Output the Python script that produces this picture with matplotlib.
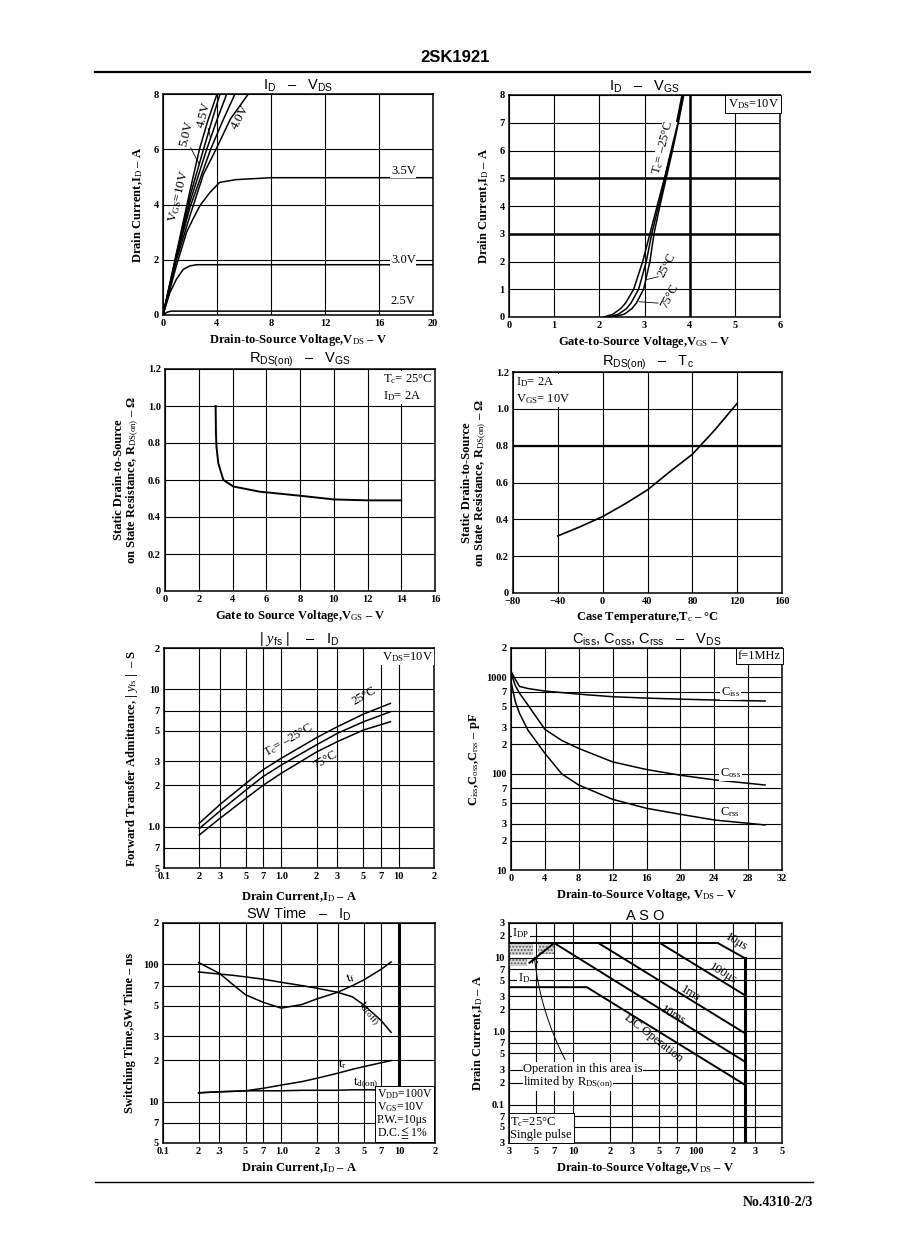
import numpy as np
import matplotlib.pyplot as plt
from matplotlib.lines import Line2D

plt.rcParams['font.family'] = ['Liberation Serif', 'DejaVu Serif', 'DejaVu Sans']
plt.rcParams['mathtext.fontset'] = 'custom'
plt.rcParams['mathtext.rm'] = 'Liberation Serif'
plt.rcParams['mathtext.it'] = 'Liberation Serif:italic'
plt.rcParams['mathtext.bf'] = 'Liberation Serif:bold'
plt.rcParams['mathtext.sf'] = 'Liberation Sans'
plt.rcParams['mathtext.fallback'] = 'stix'

W, H = 898, 1260

# ---------------- data ----------------
# ID - VDS (output characteristics)
vds_10v = [0, 1, 2, 2.7, 3.3, 4.0]
id_10v = [0, 2.25, 4.5, 6, 7, 8]
vds_6v = [0, 1, 2, 3.0, 3.6, 4.22]
id_6v = [0, 2.2, 4.3, 6, 7, 8]
vds_5v = [0, 1, 2, 3.24, 3.95, 4.72]
id_5v = [0, 2.15, 4.1, 6, 7, 8]
vds_45v = [0, 1, 2, 3.53, 4.4, 5.33]
id_45v = [0, 2.1, 3.9, 6, 7, 8]
vds_4v = [0, 1, 2, 3.0, 3.93, 5.0, 6.32]
id_4v = [0, 2.0, 3.6, 5.1, 6, 7.1, 8]
vds_35v = [0, 0.5, 1, 1.75, 2.25, 2.75, 3.5, 4.2, 5.4, 8, 20]
id_35v = [0, 0.9, 1.8, 3.0, 3.5, 3.97, 4.45, 4.8, 4.9, 4.97, 4.97]
vds_3v = [0, 0.5, 1, 1.5, 2, 2.5, 20]
id_3v = [0, 0.8, 1.3, 1.65, 1.78, 1.82, 1.82]
vds_25v = [0, 0.3, 0.6, 20]
id_25v = [0, 0.1, 0.14, 0.14]

# ID - VGS (transfer)
id_levels = [0, 0.1, 0.3, 0.5, 1, 2, 3, 4, 5, 6, 7, 8]
vgs_m25 = [2.10, 2.30, 2.47, 2.58, 2.76, 2.96, 3.12, 3.28, 3.44, 3.58, 3.71, 3.83]
vgs_25 = [2.20, 2.42, 2.60, 2.70, 2.87, 3.04, 3.16, 3.31, 3.46, 3.60, 3.73, 3.85]
vgs_75 = [2.30, 2.55, 2.72, 2.82, 2.98, 3.12, 3.21, 3.34, 3.48, 3.62, 3.75, 3.87]

# RDS(on) - VGS
rvgs_v = [3.0, 3.02, 3.05, 3.16, 3.46, 4.05, 5.6, 8.0, 10, 12, 14]
rvgs_r = [1.0, 0.85, 0.78, 0.69, 0.60, 0.565, 0.537, 0.515, 0.495, 0.49, 0.49]

# RDS(on) - Tc
rtc_t = [-40, -20, 0, 20, 40, 60, 80, 100, 120]
rtc_r = [0.31, 0.36, 0.415, 0.484, 0.56, 0.659, 0.753, 0.885, 1.03]

# |yfs| - ID
yfs_id = [0.2, 0.3, 0.5, 0.7, 1.0, 2, 3, 5, 8.5]
yfs_m25 = [1.06, 1.45, 2.07, 2.6, 3.15, 4.45, 5.34, 6.6, 7.9]
yfs_25 = [0.97, 1.3, 1.85, 2.32, 2.81, 3.95, 4.78, 5.8, 6.87]
yfs_75 = [0.87, 1.15, 1.61, 2.0, 2.45, 3.5, 4.16, 5.05, 5.81]

# Ciss, Coss, Crss - VDS
cap_v = [0, 0.5, 1, 2, 4, 6, 8, 12, 16, 20, 24, 30]
ciss = [1150, 950, 800, 760, 716, 690, 665, 625, 605, 590, 578, 564]
coss = [1100, 820, 680, 513, 287, 220, 182, 132, 110, 96, 86, 76]
crss = [900, 560, 421, 282, 162, 99, 76, 54, 43.6, 37.8, 33, 29.3]

# SW time - ID
sw_id = [0.2, 0.3, 0.4, 0.5, 0.7, 1.0, 1.5, 2, 3, 4, 5, 7, 8.5]
t_f = [103, 86, 70, 60, 53, 48, 51, 56, 62.6, 70, 77, 92, 104]
td_off = [88, 85, 83, 81, 78, 74, 70, 67, 62.6, 58, 50.6, 39, 32]
t_r = [11.6, 11.8, 11.9, 12.0, 12.5, 13.2, 14.0, 14.8, 16.1, 17.2, 18, 19.2, 19.9]
td_on = [11.6, 11.8, 11.9, 12.0, 12.0, 12.0, 12.1, 12.1, 12.1, 12.2, 12.2, 12.2, 12.2]

# ASO
idp_v, idp_i = [3, 150], [16, 16]
us10_v, us10_i = [150, 250], [16, 9.9]
us100_v, us100_i = [50.8, 250], [16, 3.1]
ms1_v, ms1_i = [16, 250], [16, 0.94]
ms10_v, ms10_i = [7, 250], [16, 0.385]
dc_v, dc_i = [3, 12.9, 250], [4.0, 4.0, 0.186]
vdss_v, vdss_i = [250, 250], [9.9, 0.03]
rds_v, rds_i = [4.4, 7.0], [8.6, 16]


def box(l, t, r, b):
    return [l / W, 1 - b / H, (r - l) / W, (b - t) / H]


def style(ax, xt, xl, yt, yl):
    ax.set_xticks(xt, xl)
    ax.set_yticks(yt, yl)
    ax.minorticks_off()
    ax.tick_params(length=0, labelsize=7.5, pad=3)
    for lab in ax.get_xticklabels() + ax.get_yticklabels():
        lab.set_fontweight('bold')
    ax.grid(True, color='k', lw=0.8)
    ax.set_axisbelow(True)
    for s in ax.spines.values():
        s.set_linewidth(1.1)


def title(ax, s):
    ax.set_title(s, fontfamily='Liberation Sans', fontsize=10.5, pad=1)


LBL = dict(fontsize=9, fontweight='bold')
CRV = dict(color='k', lw=1.1)
FS = 9

fig = plt.figure(figsize=(W / 100, H / 100), dpi=100)

fig.text(455 / W, 1 - 57 / H, '2SK1921', fontfamily='Liberation Sans', fontsize=12,
         fontweight='bold', ha='center', va='center')
fig.add_artist(Line2D([95 / W, 810 / W], [1 - 72 / H] * 2, color='k', lw=1.6))
fig.add_artist(Line2D([95 / W, 813 / W], [1 - 1182 / H] * 2, color='k', lw=1.0))
fig.text(813 / W, 1 - 1203 / H, 'No.4310-2/3', fontsize=10, fontweight='bold',
         ha='right', va='center')

# ---------- ID - VDS ----------
ax = fig.add_axes(box(163, 94, 433, 315))
for x, y in [(vds_10v, id_10v), (vds_6v, id_6v), (vds_5v, id_5v), (vds_45v, id_45v),
             (vds_4v, id_4v), (vds_35v, id_35v), (vds_3v, id_3v), (vds_25v, id_25v)]:
    ax.plot(x, y, **CRV)
ax.set_xlim(0, 20)
ax.set_ylim(0, 8)
style(ax, range(0, 21, 4), [str(v) for v in range(0, 21, 4)],
      range(0, 9, 2), [str(v) for v in range(0, 9, 2)])
title(ax, r'I$_\mathsf{D}$   –   V$_\mathsf{DS}$')
ax.set_xlabel(r'Drain-to-Source Voltage,V$_{\rm DS}$ – V', labelpad=3, **LBL)
ax.set_ylabel(r'Drain Current,I$_{\rm D}$ – A', labelpad=6, **LBL)
for t, x, y in [('3.5V', 17.8, 5.2), ('3.0V', 17.8, 2.0), ('2.5V', 17.8, 0.5)]:
    ax.text(x, y, t, fontsize=FS, ha='center', va='center',
            bbox=dict(facecolor='white', edgecolor='none', pad=0.5))
ax.text(1.2, 4.3, r'V$_{\rm GS}$=10V', rotation=76, fontsize=9.5, ha='center', va='center')
ax.text(1.75, 6.55, '5.0V', rotation=76, fontsize=9.5, ha='center', va='center')
ax.text(3.05, 7.25, '4.5V', rotation=76, fontsize=9.5, ha='center', va='center')
ax.text(5.75, 7.15, '4.0V', rotation=62, fontsize=9.5, ha='center', va='center')
ax.plot([2.05, 2.7], [6.05, 5.45], color='k', lw=0.6)
ax.plot([3.35, 3.5], [6.75, 6.45], color='k', lw=0.6)

# ---------- ID - VGS ----------
ax = fig.add_axes(box(509, 95, 780, 317))
for v in (vgs_m25, vgs_25, vgs_75):
    ax.plot(v, id_levels, **CRV)
ax.set_xlim(0, 6)
ax.set_ylim(0, 8)
style(ax, range(0, 7), [str(v) for v in range(0, 7)],
      range(0, 9), [str(v) for v in range(0, 9)])
ax.axhline(5, color='k', lw=1.8)
ax.axhline(3, color='k', lw=1.8)
ax.axvline(4, color='k', lw=1.8)
title(ax, r'I$_\mathsf{D}$   –   V$_\mathsf{GS}$')
ax.set_xlabel(r'Gate-to-Source Voltage,V$_{\rm GS}$ – V', labelpad=3, **LBL)
ax.set_ylabel(r'Drain Current,I$_{\rm D}$ – A', labelpad=6, **LBL)
ax.text(0.995, 0.99, r'V$_{\rm DS}$=10V', transform=ax.transAxes, fontsize=FS,
        ha='right', va='top', bbox=dict(facecolor='white', edgecolor='k', lw=0.7, pad=1.5))
ax.text(3.42, 6.1, r'T$_{\rm c}$= –25°C', rotation=76, fontsize=FS, ha='center', va='center',
        bbox=dict(facecolor='white', edgecolor='none', pad=0.3))
ax.text(3.5, 1.85, '25°C', rotation=62, fontsize=FS, ha='center', va='center')
ax.text(3.55, 0.75, '75°C', rotation=62, fontsize=FS, ha='center', va='center')
ax.plot([3.05, 3.3], [1.35, 1.45], color='k', lw=0.6)
ax.plot([2.88, 3.3], [0.55, 0.5], color='k', lw=0.6)

# ---------- RDS(on) - VGS ----------
ax = fig.add_axes(box(165, 369, 435, 591))
ax.plot(rvgs_v, rvgs_r, color='k', lw=1.4)
ax.set_xlim(0, 16)
ax.set_ylim(0, 1.2)
style(ax, range(0, 17, 2), [str(v) for v in range(0, 17, 2)],
      np.arange(0, 1.21, 0.2), ['0', '0.2', '0.4', '0.6', '0.8', '1.0', '1.2'])
title(ax, r'R$_\mathsf{DS(on)}$   –   V$_\mathsf{GS}$')
ax.set_xlabel(r'Gate to Source Voltage,V$_{\rm GS}$ – V', labelpad=3, **LBL)
ax.set_ylabel('Static Drain-to-Source\n' + r'on State Resistance, R$_{\rm DS(on)}$ – Ω',
              labelpad=5, linespacing=1.0, **LBL)
ax.text(0.99, 0.985, 'T$_{\\rm c}$= 25°C\nI$_{\\rm D}$= 2A', transform=ax.transAxes,
        fontsize=FS, ha='right', va='top', linespacing=1.3, multialignment='left',
        bbox=dict(facecolor='white', edgecolor='none', pad=1))

# ---------- RDS(on) - Tc ----------
ax = fig.add_axes(box(513, 372, 782, 593))
ax.plot(rtc_t, rtc_r, color='k', lw=1.2)
ax.set_xlim(-80, 160)
ax.set_ylim(0, 1.2)
style(ax, range(-80, 161, 40), ['−80', '−40', '0', '40', '80', '120', '160'],
      np.arange(0, 1.21, 0.2), ['0', '0.2', '0.4', '0.6', '0.8', '1.0', '1.2'])
ax.axhline(0.8, color='k', lw=1.6)
title(ax, r'R$_\mathsf{DS(on)}$   –   T$_\mathsf{c}$')
ax.set_xlabel(r'Case Temperature,T$_{\rm c}$ – °C', labelpad=3, **LBL)
ax.set_ylabel('Static Drain-to-Source\n' + r'on State Resistance, R$_{\rm DS(on)}$ – Ω',
              labelpad=5, linespacing=1.0, **LBL)
ax.text(0.01, 0.985, 'I$_{\\rm D}$= 2A\nV$_{\\rm GS}$= 10V', transform=ax.transAxes,
        fontsize=FS, ha='left', va='top', linespacing=1.3,
        bbox=dict(facecolor='white', edgecolor='none', pad=1))

# ---------- |yfs| - ID ----------
logx = [0.1, 0.2, 0.3, 0.5, 0.7, 1, 2, 3, 5, 7, 10, 20]
ax = fig.add_axes(box(164, 648, 434, 868))
for y in (yfs_m25, yfs_25, yfs_75):
    ax.plot(yfs_id, y, **CRV)
ax.set_xscale('log')
ax.set_yscale('log')
style(ax, logx, ['0.1', '2', '3', '5', '7', '1.0', '2', '3', '5', '7', '10', '2'],
      [0.5, 0.7, 1, 2, 3, 5, 7, 10, 20], ['5', '7', '1.0', '2', '3', '5', '7', '10', '2'])
ax.set_xlim(0.1, 20)
ax.set_ylim(0.5, 20)
title(ax, r'| $y_\mathsf{fs}$ |    –   I$_\mathsf{D}$')
ax.set_xlabel(r'Drain Current,I$_{\rm D}$ – A', labelpad=6, **LBL)
ax.set_ylabel(r'Forward Transfer Admittance, | $y_{\rm fs}$ |  – S', labelpad=5, **LBL)
ax.text(0.995, 0.99, r'V$_{\rm DS}$=10V', transform=ax.transAxes, fontsize=FS,
        ha='right', va='top', bbox=dict(facecolor='white', edgecolor='none', pad=1))
ax.text(1.15, 4.25, r'T$_{\rm c}$= –25°C', rotation=30, fontsize=FS, ha='center', va='center')
ax.text(5.1, 9.0, '25°C', rotation=30, fontsize=FS, ha='center', va='center')
ax.text(2.35, 3.05, '75°C', rotation=30, fontsize=FS, ha='center', va='center')

# ---------- Ciss, Coss, Crss - VDS ----------
ax = fig.add_axes(box(511, 648, 782, 870))
for c in (ciss, coss, crss):
    ax.plot(cap_v, c, **CRV)
ax.set_yscale('log')
style(ax, range(0, 33, 4), [str(v) for v in range(0, 33, 4)],
      [10, 20, 30, 50, 70, 100, 200, 300, 500, 700, 1000, 2000],
      ['10', '2', '3', '5', '7', '100', '2', '3', '5', '7', '1000', '2'])
ax.set_xlim(0, 32)
ax.set_ylim(10, 2000)
title(ax, r'C$_\mathsf{iss}$, C$_\mathsf{oss}$, C$_\mathsf{rss}$   –   V$_\mathsf{DS}$')
ax.set_xlabel(r'Drain-to-Source Voltage, V$_{\rm DS}$ – V', labelpad=3, **LBL)
ax.set_ylabel(r'C$_{\rm iss}$,C$_{\rm oss}$,C$_{\rm rss}$ – pF', labelpad=3, **LBL)
ax.text(0.995, 0.99, 'f=1MHz', transform=ax.transAxes, fontsize=FS,
        ha='right', va='top', bbox=dict(facecolor='white', edgecolor='k', lw=0.7, pad=1.5))
for t, y in [(r'C$_{\rm iss}$', 690), (r'C$_{\rm oss}$', 100), (r'C$_{\rm rss}$', 40)]:
    ax.text(25.9, y, t, fontsize=FS, ha='center', va='center',
            bbox=dict(facecolor='white', edgecolor='none', pad=0.5))

# ---------- SW time - ID ----------
ax = fig.add_axes(box(163, 923, 435, 1143))
for y in (t_f, td_off, t_r, td_on):
    ax.plot(sw_id, y, **CRV)
ax.set_xscale('log')
ax.set_yscale('log')
style(ax, logx, ['0.1', '2', '.3', '5', '7', '1.0', '2', '3', '5', '7', '10', '2'],
      [5, 7, 10, 20, 30, 50, 70, 100, 200], ['5', '7', '10', '2', '3', '5', '7', '100', '2'])
ax.set_xlim(0.1, 20)
ax.set_ylim(5, 200)
ax.axvline(10, color='k', lw=2.2)
title(ax, r'SW Time   –   I$_\mathsf{D}$')
ax.set_xlabel(r'Drain Current,I$_{\rm D}$ – A', labelpad=3, **LBL)
ax.set_ylabel('Switching Time,SW Time – ns', labelpad=5, **LBL)
ax.text(3.85, 80, r't$_{\rm f}$', rotation=20, fontsize=9.5, ha='center', va='center')
ax.text(5.5, 44, r't$_{\rm d(off)}$', rotation=-50, fontsize=9.5, ha='center', va='center')
ax.text(3.27, 18.8, r't$_{\rm r}$', fontsize=9.5, ha='center', va='center')
ax.text(5.2, 13.6, r't$_{\rm d(on)}$', fontsize=9.5, ha='center', va='center')
ax.text(0.99, 0.01, 'V$_{\\rm DD}$=100V\nV$_{\\rm GS}$=10V\nP.W.=10μs\nD.C.$\\leqq$1%',
        transform=ax.transAxes, fontsize=8.5, ha='right', va='bottom', linespacing=0.95,
        multialignment='left',
        bbox=dict(facecolor='white', edgecolor='k', lw=0.7, pad=1.2))

# ---------- ASO ----------
ax = fig.add_axes(box(509, 923, 782, 1143))
ax.set_xscale('log')
ax.set_yscale('log')
ax.fill_between([3, 4.7], 11, 16, facecolor='0.85', edgecolor='0.35', hatch='.....', lw=0)
ax.fill_between([5.2, 7.0], 11.5, 16, facecolor='0.85', edgecolor='0.35', hatch='.....', lw=0)
ax.fill_between([3, 4.2], 7.7, 9.8, facecolor='0.85', edgecolor='0.35', hatch='.....', lw=0)
for x, y in [(idp_v, idp_i), (us10_v, us10_i), (us100_v, us100_i), (ms1_v, ms1_i),
             (ms10_v, ms10_i), (dc_v, dc_i), (rds_v, rds_i)]:
    ax.plot(x, y, color='k', lw=1.4)
ax.plot(vdss_v, vdss_i, color='k', lw=2.2)
style(ax, [3, 5, 7, 10, 20, 30, 50, 70, 100, 200, 300, 500],
      ['3', '5', '7', '10', '2', '3', '5', '7', '100', '2', '3', '5'],
      [0.03, 0.05, 0.07, 0.1, 0.2, 0.3, 0.5, 0.7, 1, 2, 3, 5, 7, 10, 20, 30],
      ['3', '5', '7', '0.1', '2', '3', '5', '7', '1.0', '2', '3', '5', '7', '10', '2', '3'])
ax.set_xlim(3, 500)
ax.set_ylim(0.03, 30)
title(ax, 'A S O')
ax.set_xlabel(r'Drain-to-Source Voltage,V$_{\rm DS}$ – V', labelpad=3, **LBL)
ax.set_ylabel(r'Drain Current,I$_{\rm D}$ – A', labelpad=5, **LBL)
ax.text(3.75, 22, r'I$_{\rm DP}$', fontsize=FS, ha='center', va='center',
        bbox=dict(facecolor='white', edgecolor='none', pad=0.3))
ax.text(3.95, 5.3, r'I$_{\rm D}$', fontsize=FS, ha='center', va='center',
        bbox=dict(facecolor='white', edgecolor='none', pad=0.3))
ax.text(214, 16.5, '10μs', rotation=-31, fontsize=FS, ha='center', va='center')
ax.text(166, 6.2, '100μs', rotation=-31, fontsize=FS, ha='center', va='center')
ax.text(89, 3.3, '1ms', rotation=-31, fontsize=FS, ha='center', va='center')
ax.text(65, 1.67, '10ms', rotation=-31, fontsize=FS, ha='center', va='center')
ax.text(45, 0.8, 'DC Operation', rotation=-38, fontsize=FS, ha='center', va='center')
ax.text(3.9, 0.31, 'Operation in this area is', fontsize=FS, ha='left', va='center',
        bbox=dict(facecolor='white', edgecolor='none', pad=0.3))
ax.text(3.9, 0.2, r'limited by R$_{\rm DS(on)}$', fontsize=FS, ha='left', va='center',
        bbox=dict(facecolor='white', edgecolor='none', pad=0.3))
ax.annotate('', xy=(4.8, 11.5), xytext=(8.8, 0.38),
            arrowprops=dict(arrowstyle='->', lw=0.7, color='k', connectionstyle='arc3,rad=-0.1'))
ax.text(3.08, 0.032, 'T$_{\\rm c}$=25°C\nSingle pulse', fontsize=FS, ha='left', va='bottom',
        linespacing=1.0, bbox=dict(facecolor='white', edgecolor='k', lw=0.7, pad=1.2))

fig.savefig('out.png', dpi=100, facecolor='white')
